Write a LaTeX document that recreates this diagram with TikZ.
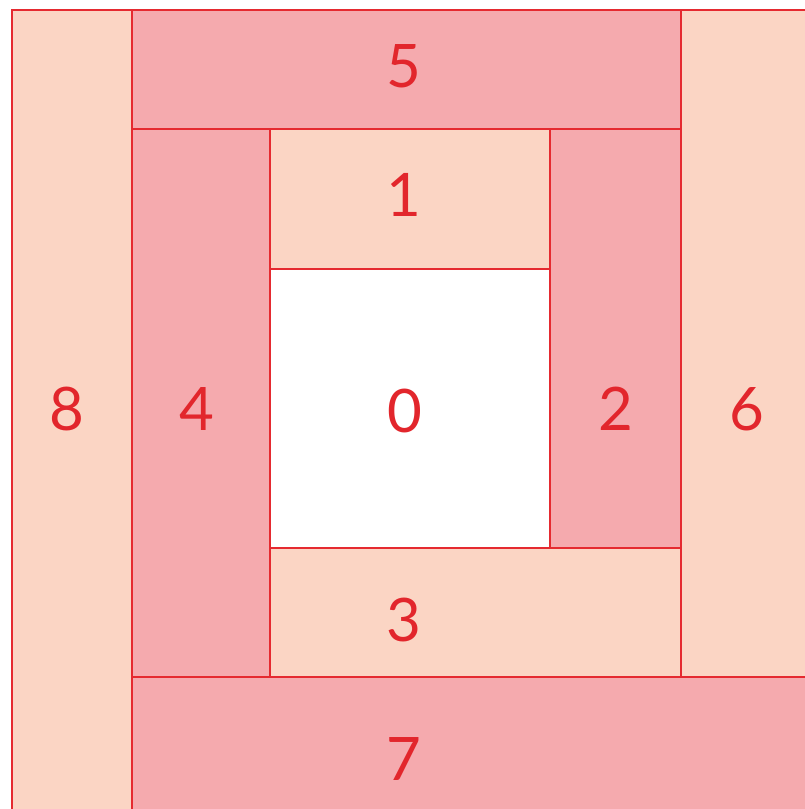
\documentclass[tikz,border=0pt]{standalone}
\usepackage{fontspec}
\setmainfont{Lato}
\definecolor{peach}{HTML}{FBD5C4}
\definecolor{rose}{HTML}{F5AAAE}
\definecolor{edge}{HTML}{E52A30}
\definecolor{txt}{HTML}{E2262C}
\begin{document}
\begin{tikzpicture}[x=1pt,y=-1pt,
  cell/.style={draw=edge,line width=1.6pt},
  num/.style={text=txt,font=\fontsize{60}{60}\selectfont,inner sep=0pt,anchor=center}]
\useasboundingbox (0,0) rectangle (804,809);
\fill[white] (0,0) rectangle (804,809);
% outer strips
\filldraw[cell,fill=peach] (12,10) rectangle (132,830);
\filldraw[cell,fill=rose] (132,10) rectangle (681,129);
\filldraw[cell,fill=peach] (681,10) rectangle (830,677);
\filldraw[cell,fill=rose] (132,677) rectangle (830,830);
% inner strips
\filldraw[cell,fill=rose] (132,129) rectangle (270,677);
\filldraw[cell,fill=peach] (270,129) rectangle (550,269);
\filldraw[cell,fill=rose] (550,129) rectangle (681,548);
\filldraw[cell,fill=peach] (270,548) rectangle (681,677);
\filldraw[cell,fill=white] (270,269) rectangle (550,548);
% labels
\node[num] (n0) at (405,411) {0};
\node[num] (n1) at (404,195) {1};
\node[num] (n2) at (616,409) {2};
\node[num] (n3) at (404,620) {3};
\node[num] (n4) at (197,409) {4};
\node[num] (n5) at (404,66) {5};
\node[num] (n6) at (747,409) {6};
\node[num] (n7) at (404,759) {7};
\node[num] (n8) at (67,409) {8};
\end{tikzpicture}
\end{document}
